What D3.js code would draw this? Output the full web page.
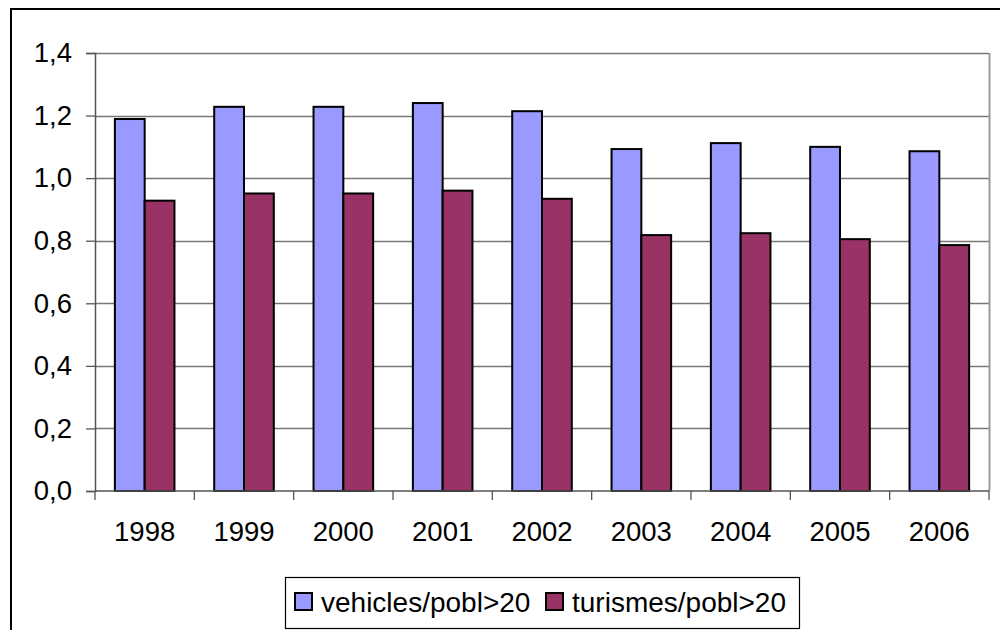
<!DOCTYPE html>
<html>
<head>
<meta charset="utf-8">
<script src="https://cdn.jsdelivr.net/npm/d3@7"></script>
<style>
  body { margin: 0; background: #fff; }
  svg { display: block; font-family: "Liberation Sans", Arial, sans-serif; }
</style>
</head>
<body>
<div id="chart"></div>
<script>
// the data
var years = ['1998', '1999', '2000', '2001', '2002', '2003', '2004', '2005', '2006']
var vehicles = [1.189, 1.228, 1.228, 1.240, 1.214, 1.093, 1.112, 1.100, 1.086]
var turismes = [0.928, 0.951, 0.951, 0.960, 0.934, 0.818, 0.824, 0.805, 0.786]
var seriesNames = ['vehicles/pobl>20', 'turismes/pobl>20']
var seriesColors = ['#9999ff', '#993366']
var yTicks = [0, 0.2, 0.4, 0.6, 0.8, 1.0, 1.2, 1.4]

var W = 1000, H = 630
var margin = { top: 53, right: 11, bottom: 139, left: 95 }
var width = W - margin.left - margin.right
var height = H - margin.top - margin.bottom

var svg = d3.select('#chart').append('svg')
    .attr('width', W)
    .attr('height', H)

// outer chart frame (runs off the right / bottom edge)
svg.append('rect')
    .attr('x', 11).attr('y', 9)
    .attr('width', 1200).attr('height', 900)
    .attr('fill', 'none')
    .attr('stroke', '#000')
    .attr('stroke-width', 2)

var g = svg.append('g')
    .attr('transform', 'translate(' + margin.left + ',' + margin.top + ')')

var x = d3.scaleBand().domain(years).range([0, width]).paddingInner(0.4).paddingOuter(0.2)
var xOuter = d3.scaleBand().domain(years).range([0, width])
var xInner = d3.scaleBand().domain([0, 1]).range([0, x.bandwidth()])
var y = d3.scaleLinear().domain([0, 1.4]).range([height, 0])

// gridlines
g.append('g').selectAll('line')
    .data(yTicks.filter(function (d) { return d > 0 }))
    .join('line')
    .attr('x1', 0).attr('x2', width)
    .attr('y1', function (d) { return Math.round(y(d)) + 0.5 })
    .attr('y2', function (d) { return Math.round(y(d)) + 0.5 })
    .attr('stroke', '#777')
    .attr('stroke-width', 1.3)

// right edge of the plot area
g.append('line')
    .attr('x1', width + 0.5).attr('x2', width + 0.5)
    .attr('y1', 0).attr('y2', height)
    .attr('stroke', '#999')
    .attr('stroke-width', 2)

// bars
var datas = years.map(function (yr, i) { return [vehicles[i], turismes[i]] })
var groups = g.selectAll('.grp')
    .data(datas)
    .join('g')
    .attr('class', 'grp')
    .attr('transform', function (d, i) { return 'translate(' + x(years[i]) + ',0)' })
groups.selectAll('rect')
    .data(function (d) { return d })
    .join('rect')
    .attr('x', function (d, j) { return xInner(j) })
    .attr('y', function (d) { return y(d) })
    .attr('width', xInner.bandwidth())
    .attr('height', function (d) { return height - y(d) })
    .attr('fill', function (d, j) { return seriesColors[j] })
    .attr('stroke', '#000')
    .attr('stroke-width', 2)

// y axis
var yAxis = g.append('g')
    .call(d3.axisLeft(y).tickValues(yTicks).tickSize(9).tickPadding(14)
        .tickFormat(function (d) { return d3.format('.1f')(d).replace('.', ',') }))
yAxis.select('.domain').attr('stroke', '#555').attr('stroke-width', 1.5)
yAxis.selectAll('.tick line').attr('stroke', '#555').attr('stroke-width', 1.3)
yAxis.selectAll('text').attr('font-size', 27.5).attr('fill', '#000')
    .attr('font-family', '"Liberation Sans", Arial, sans-serif')

// x axis: ticks at category boundaries
var xAxis = g.append('g').attr('transform', 'translate(0,' + height + ')')
xAxis.append('line')
    .attr('x1', 0).attr('x2', width)
    .attr('stroke', '#555').attr('stroke-width', 1.5)
xAxis.selectAll('.bt')
    .data(years.concat(['end']))
    .join('line')
    .attr('class', 'bt')
    .attr('x1', function (d, i) { return i * xOuter.step() })
    .attr('x2', function (d, i) { return i * xOuter.step() })
    .attr('y1', 0).attr('y2', 9)
    .attr('stroke', '#555').attr('stroke-width', 1.3)
xAxis.selectAll('text')
    .data(years)
    .join('text')
    .attr('x', function (d) { return x(d) + x.bandwidth() / 2 })
    .attr('y', 50)
    .attr('text-anchor', 'middle')
    .attr('font-size', 27.5)
    .text(function (d) { return d })

// legend
var leg = svg.append('g').attr('transform', 'translate(285,577)')
leg.append('rect')
    .attr('x', 0.5).attr('y', 0.5)
    .attr('width', 514).attr('height', 51)
    .attr('fill', '#fff')
    .attr('stroke', '#000')
    .attr('stroke-width', 1.2)
var legX = [10, 261]
seriesNames.forEach(function (name, j) {
    leg.append('rect')
        .attr('x', legX[j]).attr('y', 16)
        .attr('width', 17).attr('height', 17)
        .attr('fill', seriesColors[j])
        .attr('stroke', '#000')
        .attr('stroke-width', 2)
    leg.append('text')
        .attr('x', legX[j] + 26).attr('y', 35)
        .attr('font-size', 28)
        .text(name)
})
</script>
</body>
</html>
